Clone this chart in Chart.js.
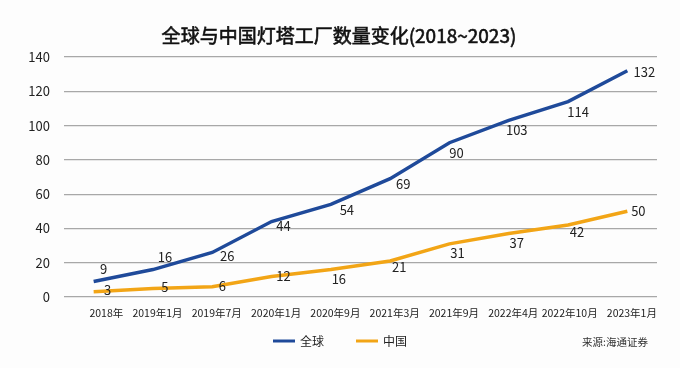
<!DOCTYPE html>
<html>
<head>
<meta charset="utf-8">
<script src="https://cdn.jsdelivr.net/npm/chart.js@4/dist/chart.umd.min.js"></script>
<style>
  html, body { margin: 0; padding: 0; background: #fdfdfd; }
  #wrap { width: 680px; height: 368px; position: relative; }
</style>
</head>
<body>
<div id="wrap"><canvas id="lighthouse-chart"></canvas></div>
<script>
// Chart data
const categories = ['2018年', '2019年1月', '2019年7月', '2020年1月', '2020年9月', '2021年3月', '2021年9月', '2022年4月', '2022年10月', '2023年1月'];
const globalValues = [9, 16, 26, 44, 54, 69, 90, 103, 114, 132];
const chinaValues = [3, 5, 6, 12, 16, 21, 31, 37, 42, 50];
const yTicks = [0, 20, 40, 60, 80, 100, 120, 140];

const FONT = '"Noto Sans CJK SC", "Noto Sans", sans-serif';
const BLUE = '#1f4a9a';
const ORANGE = '#f2a516';

// label offsets (dx, dy) relative to each point
const globalLabelOffsets = [[10, -13], [12, -13], [15, 4], [12, 4], [16, 6], [13, 5], [7, 10], [8, 10], [10, 10], [17, 1]];
const chinaLabelOffsets = [[14, -2], [12, -1], [10, -1], [12, 0], [8, 9], [9, 6], [8, 9], [8, 9], [9, 7], [11, 0]];

// Title, value labels, legend and source note
const decorations = {
  id: 'decorations',
  afterDatasetsDraw(chart) {
    const ctx = chart.ctx;
    ctx.save();

    // title (regular weight with a thin stroke, looks like medium)
    ctx.font = '19px ' + FONT;
    ctx.fillStyle = '#111';
    ctx.strokeStyle = '#111';
    ctx.lineWidth = 0.6;
    ctx.textAlign = 'center';
    ctx.textBaseline = 'middle';
    ctx.fillText('全球与中国灯塔工厂数量变化(2018~2023)', 339, 36);
    ctx.strokeText('全球与中国灯塔工厂数量变化(2018~2023)', 339, 36);

    // value labels
    ctx.font = '13px ' + FONT;
    ctx.fillStyle = '#222';
    const offsets = [globalLabelOffsets, chinaLabelOffsets];
    chart.data.datasets.forEach((ds, i) => {
      const meta = chart.getDatasetMeta(i);
      meta.data.forEach((pt, j) => {
        const off = offsets[i][j];
        ctx.fillText(String(ds.data[j]), pt.x + off[0], pt.y + off[1]);
      });
    });

    // legend
    ctx.font = '12px ' + FONT;
    ctx.textAlign = 'left';
    const legendX = [273, 356];
    chart.data.datasets.forEach((ds, i) => {
      ctx.strokeStyle = ds.borderColor;
      ctx.lineWidth = 3;
      ctx.beginPath();
      ctx.moveTo(legendX[i], 341);
      ctx.lineTo(legendX[i] + 22, 341);
      ctx.stroke();
      ctx.fillStyle = '#222';
      ctx.fillText(ds.label, legendX[i] + 27, 341);
    });

    // source
    ctx.font = '10.5px ' + FONT;
    ctx.fillStyle = '#333';
    ctx.textAlign = 'right';
    ctx.fillText('来源:海通证券', 648, 342);
    ctx.restore();
  }
};

const ctx = document.getElementById('lighthouse-chart').getContext('2d');
new Chart(ctx, {
  type: 'line',
  data: {
    labels: categories,
    datasets: [
      {
        label: '全球',
        data: globalValues,
        borderColor: BLUE,
        backgroundColor: BLUE,
        borderWidth: 3.5,
        pointRadius: 0,
        tension: 0
      },
      {
        label: '中国',
        data: chinaValues,
        borderColor: ORANGE,
        backgroundColor: ORANGE,
        borderWidth: 3.5,
        pointRadius: 0,
        tension: 0
      }
    ]
  },
  options: {
    responsive: true,
    maintainAspectRatio: false,
    animation: false,
    layout: { padding: { left: 0, right: 23, top: 57, bottom: 48 } },
    plugins: {
      legend: { display: false },
      title: { display: false },
      tooltip: { enabled: false }
    },
    scales: {
      x: {
        offset: true,
        grid: { display: false, drawTicks: false },
        border: { display: false },
        afterFit: axis => { axis.height = 23; },
        ticks: {
          color: '#222',
          font: { family: FONT, size: 10.5 },
          maxRotation: 0,
          autoSkip: false,
          padding: 10,
          align: 'end',
          labelOffset: 29.6
        }
      },
      y: {
        min: 0,
        max: 140,
        afterBuildTicks: axis => { axis.ticks = yTicks.map(v => ({ value: v })); },
        afterFit: axis => { axis.width = 64; },
        grid: { color: '#a8a8a8', lineWidth: 1.2, drawTicks: false },
        border: { display: false },
        ticks: { color: '#222', font: { family: FONT, size: 13 }, padding: 14 }
      }
    }
  },
  plugins: [decorations]
});
</script>
</body>
</html>
